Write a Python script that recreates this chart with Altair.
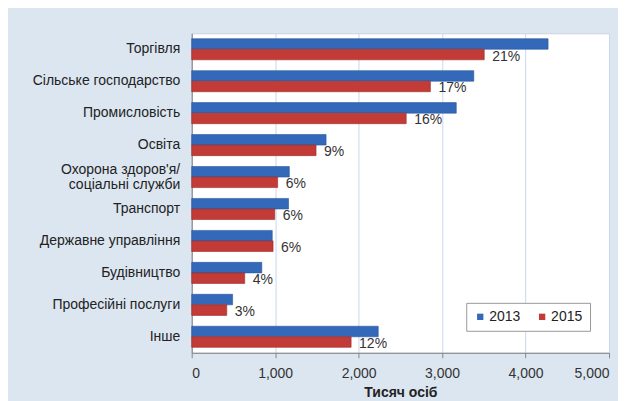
import altair as alt
import pandas as pd

categories = ["Торгівля", "Сільське господарство", "Промисловість", "Освіта",
              "Охорона здоров'я/|соціальні служби", "Транспорт", "Державне управління",
              "Будівництво", "Професійні послуги", "Інше"]
v2013 = [4270, 3380, 3170, 1610, 1170, 1160, 965, 840, 490, 2235]
v2015 = [3505, 2860, 2570, 1490, 1030, 995, 975, 635, 420, 1910]
pct2015 = ["21%", "17%", "16%", "9%", "6%", "6%", "6%", "4%", "3%", "12%"]
years = ["2013", "2015"]
x_ticks = [0, 1000, 2000, 3000, 4000, 5000]

rows = []
for c, a, b, p in zip(categories, v2013, v2015, pct2015):
    rows.append({"cat": c, "year": "2013", "val": a, "lab": ""})
    rows.append({"cat": c, "year": "2015", "val": b, "lab": p})
df = pd.DataFrame(rows)

FONT = "Liberation Sans"

y_enc = alt.Y("cat:N", sort=categories,
              scale=alt.Scale(paddingInner=0.34, paddingOuter=0.17),
              axis=alt.Axis(title=None, labelFontSize=14, labelColor="#222",
                            domainColor="#808080", ticks=False, labelPadding=12,
                            minExtent=170, maxExtent=170, labelLimit=220,
                            labelLineHeight=15,
                            labelOffset={"condition": {"test": "indexof(datum.label, '|') >= 0",
                                                       "value": -7}, "value": 0},
                            labelExpr="split(datum.label, '|')"))
x_enc = alt.X("val:Q", scale=alt.Scale(domain=[0, 5000], nice=False),
              axis=alt.Axis(title="Тисяч осіб", titleFontWeight="bold", titleFontSize=14,
                            titleColor="#222", labelFontSize=14, labelColor="#333",
                            tickColor="#888", tickSize=5, labelPadding=9,
                            grid=True, gridColor="#c6d9ef", domainColor="#808080",
                            values=x_ticks, format=",d", titlePadding=5))
yoff = alt.YOffset("year:N", scale=alt.Scale(domain=years, paddingInner=0, paddingOuter=0))

bars = alt.Chart(df).mark_bar(strokeWidth=0.6).encode(
    y=y_enc, x=x_enc, yOffset=yoff,
    color=alt.Color("year:N", scale=alt.Scale(domain=years, range=["#3468b8", "#c23b37"]),
                    legend=alt.Legend(title=None, orient="none", legendX=275, legendY=270,
                                      direction="horizontal", symbolType="square",
                                      symbolSize=40, labelFontSize=14, labelColor="#222",
                                      fillColor="white", strokeColor="#999",
                                      padding=7, columnPadding=14, labelOffset=2,
                                      symbolStrokeWidth=0)),
    stroke=alt.Stroke("year:N", scale=alt.Scale(domain=years, range=["#2a57a0", "#9e2c2a"]),
                      legend=None),
)

labels = alt.Chart(df[df["year"] == "2015"]).mark_text(
    align="left", baseline="middle", dx=8, dy=2, fontSize=14, color="#333", font=FONT
).encode(y=y_enc, x=x_enc, yOffset=yoff, text="lab:N")

chart = alt.layer(bars, labels).properties(
    width=418, height=320, background="#dce6f1",
    padding={"left": 14, "top": 25, "right": 8, "bottom": 4}
).configure(font=FONT).configure_view(fill="white", stroke="#c8d3e0")

chart.save("out.html", embed_options={"renderer": "svg", "actions": False})
